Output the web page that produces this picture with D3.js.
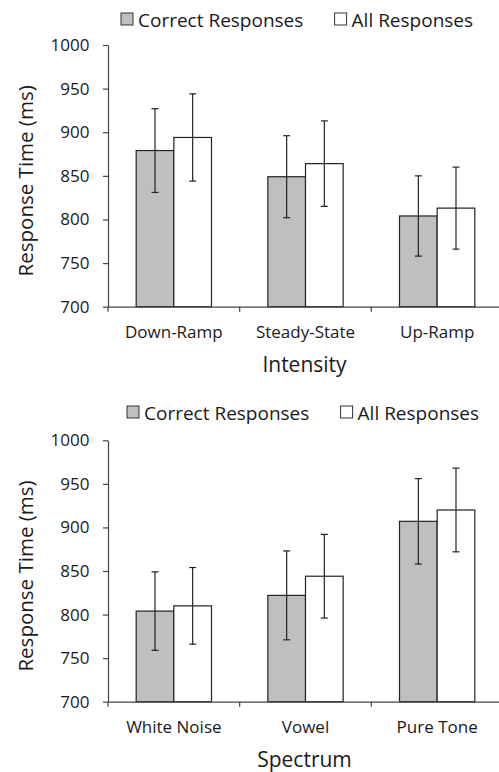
<!DOCTYPE html>
<html>
<head>
<meta charset="utf-8">
<script src="https://cdn.jsdelivr.net/npm/d3@7"></script>
<style>
  html, body { margin: 0; padding: 0; background: #fff; }
  svg { display: block; }
  text { font-family: "Open Sans", sans-serif; fill: #1a1a1a; }
</style>
</head>
<body>
<svg id="chart" width="499" height="772"></svg>
<script>
const seriesNames = ["Correct Responses", "All Responses"];
const seriesColors = ["#bfbfbf", "#ffffff"];
const yTicks = [700, 750, 800, 850, 900, 950, 1000];

const intensityCategories = ["Down-Ramp", "Steady-State", "Up-Ramp"];
const intensityCorrect = [879, 849, 804];
const intensityCorrectErr = [48, 47, 46];
const intensityAll = [894, 864, 813];
const intensityAllErr = [50, 49, 47];

const spectrumCategories = ["White Noise", "Vowel", "Pure Tone"];
const spectrumCorrect = [804, 822, 907];
const spectrumCorrectErr = [45, 51, 49];
const spectrumAll = [810, 844, 920];
const spectrumAllErr = [44, 48, 48];

const svg = d3.select("#chart");

function drawPanel(opt) {
  const g = svg.append("g");
  const x = d3.scaleBand().domain(opt.categories).range([108, 503]).padding(0);
  const inner = d3.scaleBand().domain(seriesNames)
    .range([x.bandwidth() * 0.214, x.bandwidth() * 0.786]).padding(0);
  const y = d3.scaleLinear().domain([700, 1000]).range([opt.bottom, opt.top]);

  const rows = [];
  opt.categories.forEach((c, i) => {
    rows.push({cat: c, s: seriesNames[0], v: opt.correct[i], e: opt.correctErr[i], col: seriesColors[0]});
    rows.push({cat: c, s: seriesNames[1], v: opt.all[i], e: opt.allErr[i], col: seriesColors[1]});
  });

  // bars
  g.selectAll("rect.bar").data(rows).join("rect")
    .attr("class", "bar")
    .attr("x", d => x(d.cat) + inner(d.s))
    .attr("width", inner.bandwidth())
    .attr("y", d => y(d.v))
    .attr("height", d => y(700) - y(d.v))
    .attr("fill", d => d.col)
    .attr("stroke", "#222")
    .attr("stroke-width", 1.2);

  // error bars
  const eb = g.selectAll("g.err").data(rows).join("g").attr("class", "err")
    .attr("transform", d => `translate(${x(d.cat) + inner(d.s) + inner.bandwidth() / 2},0)`);
  eb.append("line").attr("x1", 0).attr("x2", 0)
    .attr("y1", d => y(d.v + d.e)).attr("y2", d => y(d.v - d.e))
    .attr("stroke", "#222").attr("stroke-width", 1.2);
  eb.append("line").attr("x1", -3.5).attr("x2", 3.5)
    .attr("y1", d => y(d.v + d.e)).attr("y2", d => y(d.v + d.e))
    .attr("stroke", "#222").attr("stroke-width", 1.2);
  eb.append("line").attr("x1", -3.5).attr("x2", 3.5)
    .attr("y1", d => y(d.v - d.e)).attr("y2", d => y(d.v - d.e))
    .attr("stroke", "#222").attr("stroke-width", 1.2);

  // y axis
  const ya = g.append("g").attr("transform", "translate(108,0)")
    .call(d3.axisLeft(y).tickValues(yTicks).tickFormat(d3.format("d"))
      .tickSize(5).tickPadding(13.5).tickSizeOuter(0));
  ya.select(".domain").attr("stroke", "#444").attr("stroke-width", 1.2);
  ya.selectAll(".tick line").attr("stroke", "#444").attr("stroke-width", 1.2);
  ya.selectAll(".tick text").attr("font-size", 17).attr("font-family", "Open Sans").attr("fill", "#1a1a1a");

  // x axis
  const xa = g.append("g").attr("transform", `translate(0,${opt.bottom})`)
    .call(d3.axisBottom(x).tickSize(0).tickPadding(19.5).tickSizeOuter(0));
  xa.select(".domain").attr("stroke", "#444").attr("stroke-width", 1.2);
  xa.selectAll(".tick text").attr("font-size", 17).attr("font-family", "Open Sans").attr("fill", "#1a1a1a");
  // boundary ticks
  const bounds = opt.categories.map(c => x(c)).concat([x.range()[1]]);
  g.selectAll("line.bt").data(bounds).join("line").attr("class", "bt")
    .attr("x1", d => d).attr("x2", d => d)
    .attr("y1", opt.bottom).attr("y2", opt.bottom + 5)
    .attr("stroke", "#444").attr("stroke-width", 1.2);

  // axis titles
  g.append("text").attr("x", (x.range()[0] + x.range()[1]) / 2 - 1).attr("y", opt.bottom + 65)
    .attr("text-anchor", "middle").attr("font-size", 21).text(opt.xTitle);
  g.append("text").attr("transform", `translate(33,${(opt.top + opt.bottom) / 2 + 5}) rotate(-90)`)
    .attr("text-anchor", "middle").attr("font-size", 20.5).text("Response Time (ms)");

  // legend
  const lg = g.append("g").attr("transform", `translate(${opt.legendX},${opt.legendY})`);
  const items = [{n: seriesNames[0], c: seriesColors[0], dx: 0}, {n: seriesNames[1], c: seriesColors[1], dx: 213.6}];
  items.forEach(it => {
    lg.append("rect").attr("x", it.dx).attr("y", -13.5).attr("width", 12).attr("height", 12)
      .attr("fill", it.c).attr("stroke", "#333").attr("stroke-width", 1);
    lg.append("text").attr("x", it.dx + 17).attr("y", 0).attr("font-size", 19).text(it.n);
  });
}

drawPanel({
  categories: intensityCategories, correct: intensityCorrect, correctErr: intensityCorrectErr,
  all: intensityAll, allErr: intensityAllErr, top: 45, bottom: 306.7, xTitle: "Intensity",
  legendX: 121, legendY: 26.5
});
drawPanel({
  categories: spectrumCategories, correct: spectrumCorrect, correctErr: spectrumCorrectErr,
  all: spectrumAll, allErr: spectrumAllErr, top: 440.3, bottom: 701.7, xTitle: "Spectrum",
  legendX: 127, legendY: 419.5
});
</script>
</body>
</html>
